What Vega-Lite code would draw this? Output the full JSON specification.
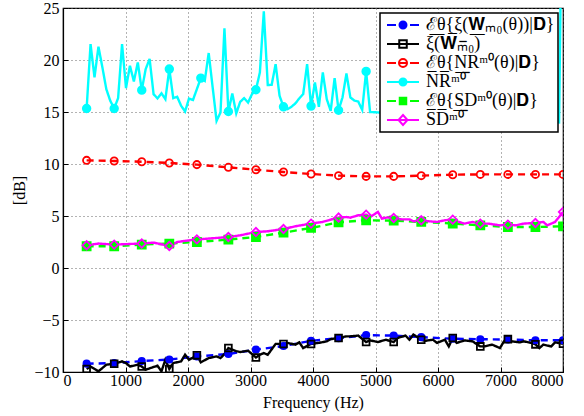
{
  "$schema": "https://vega.github.io/schema/vega-lite/v6.json",
  "width": 500,
  "height": 364,
  "autosize": "none",
  "padding": {"left": 63, "top": 8, "right": 21, "bottom": 44},
  "background": "white",
  "config": {
    "view": {"stroke": "black", "strokeWidth": 1.2},
    "font": "Liberation Serif",
    "axis": {
      "labelFont": "Liberation Serif", "titleFont": "Liberation Serif",
      "labelFontSize": 16, "titleFontSize": 16, "titleFontWeight": "normal",
      "labelColor": "black", "titleColor": "black",
      "domainColor": "black", "domainWidth": 1.2, "tickColor": "black",
      "gridColor": "#666666", "gridDash": [1, 3], "gridWidth": 1, "gridOpacity": 1,
      "tickSize": -5
    }
  },
  "datasets": {
    "pts": [
      {"s":"a","f":378,"v":-9.2},{"s":"a","f":819,"v":-9.15},{"s":"a","f":1260,"v":-8.95},{"s":"a","f":1701,"v":-8.8},{"s":"a","f":2142,"v":-8.5},{"s":"a","f":2646,"v":-8.27},{"s":"a","f":3087,"v":-7.85},{"s":"a","f":3528,"v":-7.5},{"s":"a","f":3969,"v":-7.0},{"s":"a","f":4409,"v":-6.75},{"s":"a","f":4850,"v":-6.45},{"s":"a","f":5291,"v":-6.5},{"s":"a","f":5732,"v":-6.65},{"s":"a","f":6236,"v":-6.8},{"s":"a","f":6677,"v":-6.85},{"s":"a","f":7118,"v":-6.88},{"s":"a","f":7559,"v":-6.95},{"s":"a","f":8000,"v":-6.95},
      {"s":"b","f":378,"v":-9.71},{"s":"b","f":441,"v":-9.47},{"s":"b","f":567,"v":-9.94},{"s":"b","f":693,"v":-9.3},{"s":"b","f":819,"v":-9.2},{"s":"b","f":945,"v":-8.98},{"s":"b","f":1008,"v":-9.14},{"s":"b","f":1071,"v":-9.47},{"s":"b","f":1197,"v":-9.3},{"s":"b","f":1260,"v":-9.47},{"s":"b","f":1323,"v":-9.78},{"s":"b","f":1449,"v":-9.52},{"s":"b","f":1512,"v":-9.4},{"s":"b","f":1575,"v":-9.94},{"s":"b","f":1638,"v":-8.82},{"s":"b","f":1701,"v":-9.71},{"s":"b","f":1764,"v":-9.14},{"s":"b","f":1890,"v":-8.98},{"s":"b","f":1953,"v":-8.34},{"s":"b","f":2016,"v":-8.82},{"s":"b","f":2142,"v":-8.4},{"s":"b","f":2205,"v":-9.07},{"s":"b","f":2331,"v":-8.66},{"s":"b","f":2457,"v":-8.5},{"s":"b","f":2520,"v":-8.66},{"s":"b","f":2583,"v":-8.27},{"s":"b","f":2646,"v":-7.7},{"s":"b","f":2772,"v":-8.0},{"s":"b","f":2835,"v":-8.08},{"s":"b","f":2961,"v":-7.95},{"s":"b","f":3087,"v":-8.6},{"s":"b","f":3150,"v":-8.34},{"s":"b","f":3213,"v":-8.18},{"s":"b","f":3276,"v":-8.34},{"s":"b","f":3402,"v":-7.3},{"s":"b","f":3528,"v":-7.3},{"s":"b","f":3591,"v":-7.2},{"s":"b","f":3717,"v":-7.37},{"s":"b","f":3780,"v":-7.15},{"s":"b","f":3843,"v":-7.7},{"s":"b","f":3969,"v":-7.3},{"s":"b","f":4094,"v":-7.2},{"s":"b","f":4220,"v":-7.05},{"s":"b","f":4283,"v":-6.84},{"s":"b","f":4409,"v":-6.73},{"s":"b","f":4535,"v":-6.57},{"s":"b","f":4598,"v":-6.57},{"s":"b","f":4724,"v":-6.5},{"s":"b","f":4850,"v":-7.12},{"s":"b","f":4913,"v":-6.96},{"s":"b","f":5039,"v":-7.12},{"s":"b","f":5165,"v":-6.9},{"s":"b","f":5291,"v":-7.12},{"s":"b","f":5354,"v":-6.73},{"s":"b","f":5480,"v":-6.5},{"s":"b","f":5543,"v":-6.9},{"s":"b","f":5606,"v":-6.4},{"s":"b","f":5732,"v":-6.9},{"s":"b","f":5795,"v":-7.0},{"s":"b","f":5921,"v":-6.9},{"s":"b","f":5984,"v":-7.2},{"s":"b","f":6110,"v":-6.9},{"s":"b","f":6173,"v":-7.54},{"s":"b","f":6236,"v":-6.73},{"s":"b","f":6299,"v":-7.2},{"s":"b","f":6425,"v":-6.96},{"s":"b","f":6551,"v":-7.05},{"s":"b","f":6677,"v":-7.54},{"s":"b","f":6740,"v":-7.54},{"s":"b","f":6866,"v":-7.37},{"s":"b","f":6992,"v":-7.7},{"s":"b","f":7055,"v":-7.05},{"s":"b","f":7118,"v":-6.84},{"s":"b","f":7181,"v":-7.05},{"s":"b","f":7307,"v":-7.15},{"s":"b","f":7370,"v":-7.05},{"s":"b","f":7496,"v":-7.2},{"s":"b","f":7559,"v":-7.34},{"s":"b","f":7622,"v":-7.7},{"s":"b","f":7685,"v":-7.37},{"s":"b","f":7811,"v":-7.54},{"s":"b","f":7874,"v":-7.15},{"s":"b","f":8000,"v":-7.28},
      {"s":"c","f":378,"v":10.35},{"s":"c","f":819,"v":10.29},{"s":"c","f":1260,"v":10.22},{"s":"c","f":1701,"v":10.1},{"s":"c","f":2142,"v":9.94},{"s":"c","f":2646,"v":9.68},{"s":"c","f":3087,"v":9.45},{"s":"c","f":3528,"v":9.23},{"s":"c","f":3969,"v":9.04},{"s":"c","f":4409,"v":8.88},{"s":"c","f":4850,"v":8.81},{"s":"c","f":5291,"v":8.81},{"s":"c","f":5732,"v":8.88},{"s":"c","f":6236,"v":8.97},{"s":"c","f":6677,"v":9.0},{"s":"c","f":7118,"v":9.0},{"s":"c","f":7559,"v":9.0},{"s":"c","f":8000,"v":9.0},
      {"s":"d","f":378,"v":15.34},{"s":"d","f":441,"v":21.53},{"s":"d","f":504,"v":18.32},{"s":"d","f":567,"v":21.28},{"s":"d","f":630,"v":19.3},{"s":"d","f":693,"v":17.2},{"s":"d","f":756,"v":16.08},{"s":"d","f":819,"v":15.34},{"s":"d","f":882,"v":16.34},{"s":"d","f":945,"v":21.53},{"s":"d","f":1008,"v":17.3},{"s":"d","f":1071,"v":19.45},{"s":"d","f":1134,"v":17.94},{"s":"d","f":1197,"v":19.77},{"s":"d","f":1260,"v":17.1},{"s":"d","f":1323,"v":19.13},{"s":"d","f":1386,"v":20.1},{"s":"d","f":1449,"v":16.72},{"s":"d","f":1512,"v":16.3},{"s":"d","f":1575,"v":16.8},{"s":"d","f":1638,"v":16.24},{"s":"d","f":1701,"v":19.13},{"s":"d","f":1764,"v":16.34},{"s":"d","f":1827,"v":16.46},{"s":"d","f":1890,"v":15.6},{"s":"d","f":1953,"v":15.05},{"s":"d","f":2016,"v":16.3},{"s":"d","f":2079,"v":16.15},{"s":"d","f":2142,"v":17.2},{"s":"d","f":2205,"v":18.26},{"s":"d","f":2268,"v":18.0},{"s":"d","f":2331,"v":20.67},{"s":"d","f":2394,"v":17.4},{"s":"d","f":2457,"v":14.15},{"s":"d","f":2520,"v":14.95},{"s":"d","f":2583,"v":23.04},{"s":"d","f":2646,"v":15.05},{"s":"d","f":2709,"v":16.78},{"s":"d","f":2772,"v":14.86},{"s":"d","f":2835,"v":15.98},{"s":"d","f":2898,"v":16.33},{"s":"d","f":2961,"v":15.91},{"s":"d","f":3024,"v":16.72},{"s":"d","f":3087,"v":17.14},{"s":"d","f":3150,"v":18.8},{"s":"d","f":3213,"v":24.67},{"s":"d","f":3276,"v":17.59},{"s":"d","f":3339,"v":17.62},{"s":"d","f":3402,"v":19.6},{"s":"d","f":3465,"v":16.56},{"s":"d","f":3528,"v":15.5},{"s":"d","f":3591,"v":15.27},{"s":"d","f":3654,"v":15.5},{"s":"d","f":3717,"v":15.82},{"s":"d","f":3780,"v":16.3},{"s":"d","f":3843,"v":16.72},{"s":"d","f":3906,"v":19.6},{"s":"d","f":3969,"v":15.57},{"s":"d","f":4031,"v":17.84},{"s":"d","f":4094,"v":15.5},{"s":"d","f":4157,"v":18.8},{"s":"d","f":4220,"v":16.24},{"s":"d","f":4283,"v":15.11},{"s":"d","f":4346,"v":18.26},{"s":"d","f":4409,"v":15.17},{"s":"d","f":4472,"v":16.4},{"s":"d","f":4535,"v":18.7},{"s":"d","f":4598,"v":16.4},{"s":"d","f":4661,"v":16.1},{"s":"d","f":4724,"v":16.0},{"s":"d","f":4787,"v":15.2},{"s":"d","f":4850,"v":18.9},{"s":"d","f":4913,"v":15.0},{"s":"d","f":7937,"v":14.0},{"s":"d","f":8000,"v":45},
      {"s":"e","f":378,"v":2.09},{"s":"e","f":819,"v":2.09},{"s":"e","f":1260,"v":2.25},{"s":"e","f":1701,"v":2.35},{"s":"e","f":2142,"v":2.5},{"s":"e","f":2646,"v":2.73},{"s":"e","f":3087,"v":2.98},{"s":"e","f":3528,"v":3.4},{"s":"e","f":3969,"v":3.85},{"s":"e","f":4409,"v":4.39},{"s":"e","f":4850,"v":4.59},{"s":"e","f":5291,"v":4.55},{"s":"e","f":5732,"v":4.43},{"s":"e","f":6236,"v":4.27},{"s":"e","f":6677,"v":4.1},{"s":"e","f":7118,"v":3.94},{"s":"e","f":7559,"v":3.94},{"s":"e","f":8000,"v":4.01},
      {"s":"f","f":378,"v":2.18},{"s":"f","f":567,"v":2.35},{"s":"f","f":819,"v":2.25},{"s":"f","f":1071,"v":2.31},{"s":"f","f":1260,"v":2.35},{"s":"f","f":1449,"v":2.44},{"s":"f","f":1701,"v":2.12},{"s":"f","f":1827,"v":2.5},{"s":"f","f":2016,"v":2.66},{"s":"f","f":2142,"v":2.75},{"s":"f","f":2331,"v":2.83},{"s":"f","f":2520,"v":2.92},{"s":"f","f":2646,"v":2.98},{"s":"f","f":2835,"v":3.14},{"s":"f","f":2961,"v":3.3},{"s":"f","f":3087,"v":3.46},{"s":"f","f":3276,"v":3.53},{"s":"f","f":3528,"v":3.75},{"s":"f","f":3717,"v":4.01},{"s":"f","f":3969,"v":4.27},{"s":"f","f":4157,"v":4.43},{"s":"f","f":4283,"v":4.65},{"s":"f","f":4409,"v":4.85},{"s":"f","f":4535,"v":4.9},{"s":"f","f":4598,"v":4.84},{"s":"f","f":4724,"v":5.07},{"s":"f","f":4850,"v":5.13},{"s":"f","f":4913,"v":4.9},{"s":"f","f":5039,"v":5.39},{"s":"f","f":5102,"v":4.75},{"s":"f","f":5228,"v":4.9},{"s":"f","f":5291,"v":4.81},{"s":"f","f":5417,"v":4.68},{"s":"f","f":5543,"v":4.68},{"s":"f","f":5606,"v":4.49},{"s":"f","f":5732,"v":4.59},{"s":"f","f":5858,"v":4.49},{"s":"f","f":5984,"v":4.43},{"s":"f","f":6110,"v":4.59},{"s":"f","f":6236,"v":4.65},{"s":"f","f":6299,"v":4.49},{"s":"f","f":6425,"v":4.27},{"s":"f","f":6551,"v":4.43},{"s":"f","f":6677,"v":4.27},{"s":"f","f":6803,"v":4.27},{"s":"f","f":6992,"v":4.1},{"s":"f","f":7118,"v":4.17},{"s":"f","f":7244,"v":4.1},{"s":"f","f":7370,"v":4.27},{"s":"f","f":7559,"v":4.33},{"s":"f","f":7685,"v":4.43},{"s":"f","f":7748,"v":4.1},{"s":"f","f":7874,"v":4.43},{"s":"f","f":8000,"v":5.39}
    ]
  },
  "data": {"name": "pts"},
  "encoding": {
    "x": {"field": "f", "type": "quantitative",
      "scale": {"domain": [0, 8000], "nice": false, "zero": false},
      "axis": {"values": [0,1000,2000,3000,4000,5000,6000,7000,8000], "format": "d", "title": "Frequency (Hz)", "labelFont": "Liberation Serif", "titleFont": "Liberation Serif", "labelFontSize": 16, "titleFontSize": 16, "labelPadding": 5, "titlePadding": 6}},
    "y": {"field": "v", "type": "quantitative",
      "scale": {"domain": [-10, 25], "nice": false, "zero": false},
      "axis": {"values": [-10,-5,0,5,10,15,20,25], "title": "[dB]", "labelFont": "Liberation Serif", "titleFont": "Liberation Serif", "labelFontSize": 16, "titleFontSize": 16, "labelPadding": 9, "titlePadding": 6}}
  },
  "layer": [
    {
      "mark": {"type": "line", "strokeWidth": 2.4, "clip": true},
      "encoding": {
        "color": {"field": "s", "type": "nominal",
          "scale": {"domain": ["a","b","c","d","e","f"], "range": ["#0000ff","#000000","#ff0000","#00ffff","#00ff00","#ff00ff"]},
          "legend": {
            "title": null, "orient": "top-right", "offset": 5, "padding": 3,
            "fillColor": "white", "strokeColor": "black",
            "labelFont": "Liberation Serif", "labelFontSize": 18, "labelLimit": 0, "labelColor": "black",
            "symbolSize": 100, "symbolStrokeWidth": 2, "rowPadding": 1, "labelOffset": 25,
            "labelExpr": "datum.value === 'a' ? 'ℰθ{ξ(𝐖ₘ₀(θ))|𝐃}' : datum.value === 'b' ? 'ξ̅(̅𝐖̅ₘ̅₀̅)̅' : datum.value === 'c' ? 'ℰθ{NRᵐ⁰(θ)|𝐃}' : datum.value === 'd' ? 'N̅R̅ᵐ̅⁰̅' : datum.value === 'e' ? 'ℰθ{SDᵐ⁰(θ)|𝐃}' : 'S̅D̅ᵐ̅⁰̅'",
            "encode": {
              "symbols": {"update": {
                "shape": {"signal": "datum.value === 'a' ? 'M-1,0H0.8M3.6,0H5.4M1.5,0A0.7,0.7 0 1,0 2.9,0A0.7,0.7 0 1,0 1.5,0Z' : datum.value === 'b' ? 'M-1,0H5.4M1.45,-0.75H2.95V0.75H1.45Z' : datum.value === 'c' ? 'M-1,0H0.8M3.6,0H5.4M1.4,0H3.0M1.4,0A0.8,0.8 0 1,0 3.0,0A0.8,0.8 0 1,0 1.4,0Z' : datum.value === 'd' ? 'M-1,0H5.4M1.5,0A0.7,0.7 0 1,0 2.9,0A0.7,0.7 0 1,0 1.5,0Z' : datum.value === 'e' ? 'M-1,0H0.8M3.6,0H5.4M1.55,-0.65H2.85V0.65H1.55Z' : 'M-1,0H5.4M2.2,-1L3.1,0L2.2,1L1.3,0Z'"},
                "fill": {"signal": "datum.value === 'a' ? '#0000ff' : datum.value === 'd' ? '#00ffff' : datum.value === 'e' ? '#00ff00' : 'transparent'"},
                "stroke": {"signal": "datum.value === 'a' ? '#0000ff' : datum.value === 'b' ? '#000000' : datum.value === 'c' ? '#ff0000' : datum.value === 'd' ? '#00ffff' : datum.value === 'e' ? '#00ff00' : '#ff00ff'"},
                "strokeDash": {"value": []},
                "size": {"value": 100},
                "strokeWidth": {"value": 2},
                "opacity": {"value": 1}
              }},
              "legend": {"update": {"strokeWidth": {"value": 1.5}}}
            }
          }},
        "strokeDash": {"field": "s", "type": "nominal",
          "scale": {"domain": ["f","e","d","c","b","a"], "range": [[1,0],[7,5],[1,0],[7,5],[1,0],[7,5]]},
          "legend": null}
      }
    },
    {
      "transform": [{"filter": "datum.s === 'd' ? indexof([378,819,1260,1701,2205,2646,3087,3528,3969,4409,4850], datum.f) >= 0 : indexof([378,819,1260,1701,2142,2646,3087,3528,3969,4409,4850,5291,5732,6236,6677,7118,7559,8000], datum.f) >= 0"}],
      "mark": {"type": "point", "filled": false, "strokeWidth": 1.8, "opacity": 1, "clip": true},
      "encoding": {
        "stroke": {"field": "s", "type": "nominal", "legend": null,
          "scale": {"domain": ["f","e","d","c","b","a"], "range": ["#ff00ff","#00ff00","#00ffff","#ff0000","#000000","#0000ff"]}},
        "shape": {"field": "s", "type": "nominal", "legend": null,
          "scale": {"domain": ["f","e","d","c","b","a"], "range": ["diamond","square","circle","circle","square","circle"]}},
        "fill": {"field": "s", "type": "nominal", "legend": null,
          "scale": {"domain": ["f","e","d","c","b","a"], "range": ["transparent","#00ff00","#00ffff","transparent","transparent","#0000ff"]}},
        "size": {"field": "s", "type": "nominal", "legend": null,
          "scale": {"domain": ["f","e","d","c","b","a"], "range": [70, 40, 50, 60, 60, 40]}}
      }
    }
  ]
}
